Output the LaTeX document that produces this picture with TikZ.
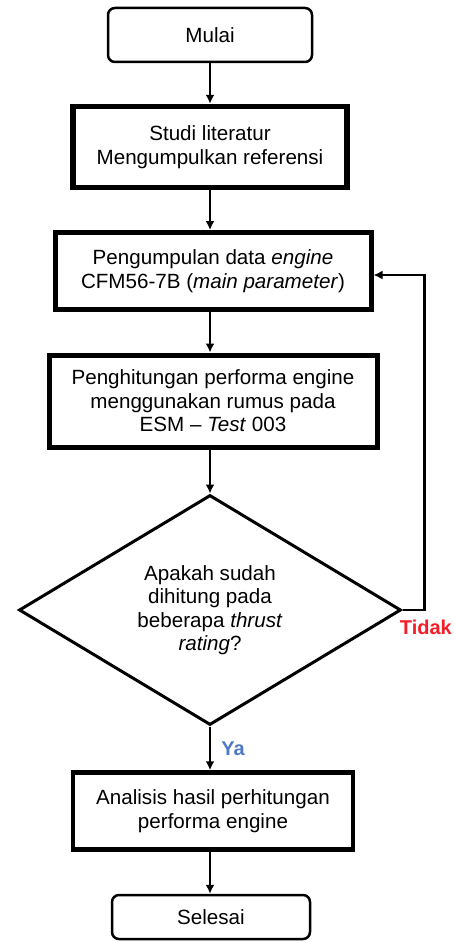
\documentclass[tikz,border=0pt]{standalone}
\usepackage{fontspec}
\setmainfont{Liberation Sans}
\usetikzlibrary{arrows.meta,shapes.geometric}
\definecolor{tidakred}{RGB}{245,30,40}
\definecolor{yablue}{RGB}{80,120,200}
\tikzset{
 term/.style={draw,rounded corners=7pt,align=center,line width=2.5pt,
             minimum width=204pt,minimum height=54pt},
 proc/.style={draw,align=center,line width=5pt,inner sep=0pt},
 decision/.style={draw,diamond,aspect=1.66,align=center,line width=3pt,
             minimum width=382pt,minimum height=230pt,inner sep=0pt},
 arrow/.style={-{Latex[length=9pt,width=9pt]},line width=2.8pt},
 answer/.style={font=\fontsize{20}{22}\selectfont\bfseries,inner sep=0pt}
}

\begin{document}
\begin{tikzpicture}[x=1pt,y=-1pt,font=\fontsize{20.6}{23.5}\selectfont]
\useasboundingbox (0,0) rectangle (454,942);
\node[term] (mulai) at (210,35) {Mulai};
\node[proc,line width=5.5pt,minimum width=274pt,minimum height=81pt] (studi) at (210,147)
  {Studi literatur\\Mengumpulkan referensi};
\node[proc,minimum width=316pt,minimum height=77pt] (kumpul) at (213,271)
  {Pengumpulan data \textit{engine}\\CFM56-7B (\textit{main parameter})};
\node[proc,minimum width=328pt,minimum height=92pt] (hitung) at (213,401)
  {Penghitungan performa engine\\menggunakan rumus pada\\ESM -- \textit{Test} 003};
\node[decision] (cek) at (210,610)
  {Apakah sudah\\dihitung pada\\beberapa \textit{thrust}\\\textit{rating}?};
\node[proc,line width=4.5pt,minimum width=280pt,minimum height=77pt] (analisis) at (213,811)
  {Analisis hasil perhitungan\\performa engine};
\node[term,minimum width=198pt,minimum height=44pt] (selesai) at (211,917) {Selesai};
% alur utama
\draw[arrow] (mulai.south) -- (studi.north);
\draw[arrow] (studi.south) -- (studi.south |- kumpul.north);
\draw[arrow] (studi.south |- kumpul.south) -- (studi.south |- hitung.north);
\draw[arrow] (studi.south |- hitung.south) -- (cek.north);
\draw[arrow] (cek.south) -- node[answer,text=yablue,right=10pt] {Ya} (cek.south |- analisis.north);
\draw[arrow] (cek.south |- analisis.south) -- (cek.south |- selesai.north);
% kembali
\draw[arrow] (cek.east) node[answer,text=tidakred,anchor=north west,xshift=-4pt,yshift=-9pt] {Tidak}
  -- ++(22,0) |- ([yshift=-4pt]kumpul.east);
\end{tikzpicture}
\end{document}
